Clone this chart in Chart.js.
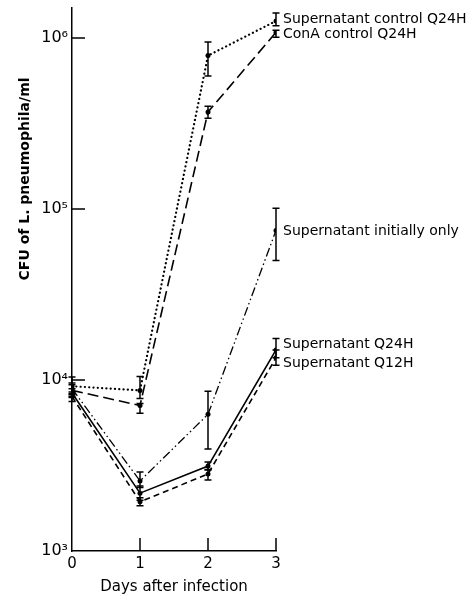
<!DOCTYPE html>
<html>
<head>
<meta charset="utf-8">
<script src="https://cdn.jsdelivr.net/npm/chart.js@4/dist/chart.umd.min.js"></script>
<style>
  html, body { margin: 0; padding: 0; background: #fff; }
  #wrap { position: relative; width: 466px; height: 598px; }
</style>
</head>
<body>
<div id="wrap"><canvas id="chartCfu"></canvas></div>
<script>
var days = [0, 1, 2, 3];
var seriesNames = ["Supernatant control Q24H", "ConA control Q24H", "Supernatant initially only", "Supernatant Q24H", "Supernatant Q12H"];
var yTickValues = [1000, 10000, 100000, 1000000];
var yTitle = "CFU of L. pneumophila/ml";

// mean and error bar ends, CFU/ml
var supControlQ24 = [9200, 8700, 790000, 1260000];
var supControlQ24Low = [8300, 7800, 600000, 1180000];
var supControlQ24High = [10400, 10500, 950000, 1400000];

var conAControlQ24 = [8700, 7100, 370000, 1080000];
var conAControlQ24Low = [8000, 6400, 340000, 1010000];
var conAControlQ24High = [9400, 7300, 400000, 1110000];

var supInitially = [8900, 2570, 6300, 75000];
var supInitiallyLow = [8200, 2350, 3950, 50000];
var supInitiallyHigh = [9600, 2900, 8600, 101000];

var supQ24 = [8400, 2180, 3140, 15000];
var supQ24Low = [7900, 1980, 2980, 13500];
var supQ24High = [8900, 2400, 3320, 17500];

var supQ12 = [8000, 1940, 2820, 13500];
var supQ12Low = [7500, 1840, 2600, 12200];
var supQ12High = [8500, 2050, 3000, 15000];

(function () {
  document.addEventListener("DOMContentLoaded", init)
  function init() {
    var FONT = "'DejaVu Sans', sans-serif";
    Chart.defaults.font.family = FONT;
    Chart.defaults.color = '#000';

    var sup = { 3: '\u00b3', 4: '\u2074', 5: '\u2075', 6: '\u2076' };

    function pts(vals) {
      return days.map(function (d, i) { return { x: d, y: vals[i] }; });
    }

    function series(i, vals, low, high, dash, width, cap, labelDy) {
      return {
        label: seriesNames[i],
        data: pts(vals),
        low: low,
        high: high,
        labelDy: labelDy,
        borderColor: '#000',
        borderWidth: width,
        borderDash: dash,
        borderCapStyle: cap,
        pointRadius: 2.5,
        pointBackgroundColor: '#000',
        pointBorderWidth: 0,
        fill: false,
        tension: 0
      };
    }

    /**
     * error bars, inward ticks, end labels and y title
     */
    var decor = {
      id: 'decor',
      afterDatasetsDraw: function (chart) {
        var ctx = chart.ctx, xs = chart.scales.x, ys = chart.scales.y;
        ctx.save();
        ctx.strokeStyle = '#000';
        ctx.fillStyle = '#000';
        ctx.lineWidth = 1.5;
        ctx.setLineDash([]);
        ctx.beginPath();
        yTickValues.slice(1).forEach(function (v) {
          var py = ys.getPixelForValue(v);
          ctx.moveTo(xs.left, py);
          ctx.lineTo(xs.left + 13, py);
        });
        days.slice(1).forEach(function (d) {
          var px = xs.getPixelForValue(d);
          ctx.moveTo(px, ys.bottom);
          ctx.lineTo(px, ys.bottom - 13);
        });
        ctx.stroke();

        var last = days.length - 1;
        ctx.font = "14px " + FONT;
        ctx.textBaseline = 'middle';
        chart.data.datasets.forEach(function (ds) {
          ctx.beginPath();
          ds.low.forEach(function (lo, i) {
            var px = xs.getPixelForValue(days[i]);
            var a = ys.getPixelForValue(lo), b = ys.getPixelForValue(ds.high[i]);
            ctx.moveTo(px, a); ctx.lineTo(px, b);
            ctx.moveTo(px - 3.5, a); ctx.lineTo(px + 3.5, a);
            ctx.moveTo(px - 3.5, b); ctx.lineTo(px + 3.5, b);
          });
          ctx.stroke();
          var lx = xs.getPixelForValue(days[last]) + 7;
          var ly = ys.getPixelForValue(ds.data[last].y) + ds.labelDy;
          ctx.fillText(ds.label, lx, ly);
        });

        // y title sits higher than the axis centre in the original
        ctx.translate(25, ys.getPixelForValue(150000));
        ctx.rotate(-Math.PI / 2);
        ctx.font = "bold 14px " + FONT;
        ctx.textAlign = 'center';
        ctx.fillText(yTitle, 0, 0);
        ctx.restore();
      }
    };

    var chartCfuContext = document.getElementById('chartCfu').getContext('2d');
    var chartCfu = new Chart(chartCfuContext, {
      type: 'line',
      data: {
        datasets: [
          series(0, supControlQ24, supControlQ24Low, supControlQ24High, [0.1, 4.2], 2.2, 'round', -2),
          series(1, conAControlQ24, conAControlQ24Low, conAControlQ24High, [11, 5], 1.6, 'butt', 2),
          series(2, supInitially, supInitiallyLow, supInitiallyHigh, [9, 3, 1.5, 3, 1.5, 3], 1.3, 'butt', 1),
          series(3, supQ24, supQ24Low, supQ24High, [], 1.6, 'butt', -6),
          series(4, supQ12, supQ12Low, supQ12High, [6, 4], 1.6, 'butt', 6)
        ]
      },
      options: {
        responsive: true,
        maintainAspectRatio: false,
        animation: false,
        layout: { padding: { top: 8, right: 190, left: 0, bottom: 0 } },
        plugins: { legend: { display: false }, tooltip: { enabled: false } },
        scales: {
          x: {
            type: 'linear', min: 0, max: 3,
            afterFit: function (s) { s.height = 47; s.paddingLeft = 0; s.paddingRight = 0; },
            grid: { display: false, drawTicks: false },
            border: { display: true, color: '#000', width: 1.5 },
            ticks: { stepSize: 1, padding: 4, font: { size: 15 } },
            title: { display: true, text: 'Days after infection', font: { size: 15 }, padding: { top: 0, bottom: 2 } }
          },
          y: {
            type: 'logarithmic', min: 1000, max: 1500000,
            afterFit: function (s) { s.width = 72; s.paddingTop = 0; s.paddingBottom = 0; },
            grid: { display: false, drawTicks: false },
            border: { display: true, color: '#000', width: 1.5 },
            ticks: {
              autoSkip: false, padding: 4, font: { size: 16 },
              callback: function (v) {
                var i = yTickValues.indexOf(v);
                return i < 0 ? '' : '10' + sup[Math.round(Math.log10(v))];
              }
            }
          }
        }
      },
      plugins: [decor]
    });
  }
})();
</script>
</body>
</html>
